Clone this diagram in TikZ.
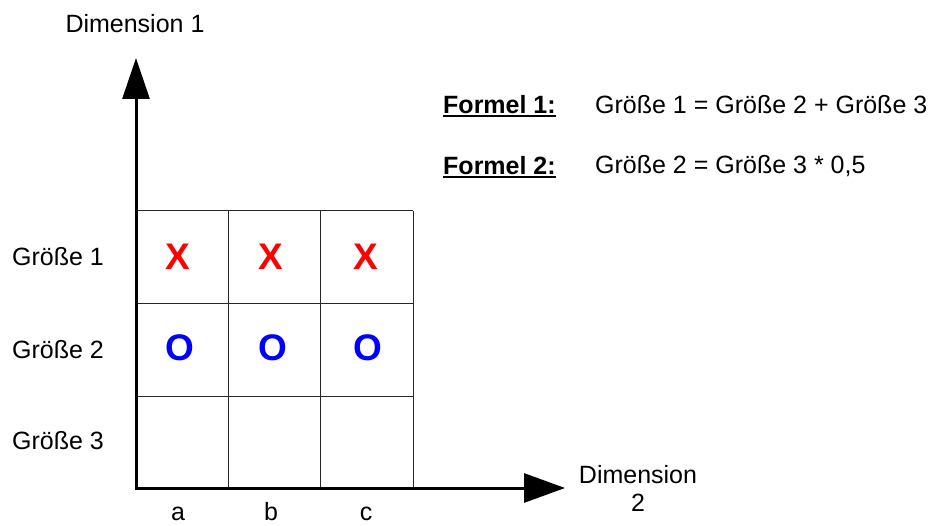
\documentclass[tikz,border=0pt]{standalone}
\usepackage{fontspec}
\setmainfont{Liberation Sans}
\usetikzlibrary{arrows.meta}
\begin{document}
\begin{tikzpicture}[x=1pt,y=-1pt,
  lbl/.style={font=\fontsize{25}{29}\selectfont, inner sep=0pt},
  mk/.style={font=\fontsize{37}{40}\selectfont\bfseries, inner sep=0pt},
  gridline/.style={line width=1pt, black!85},
  axis/.style={line width=3pt, {Triangle[length=41pt,width=27pt]}-{Triangle[length=41pt,width=29pt]}}]
\useasboundingbox (0,0) rectangle (942,526);
% grid
\foreach \x in {136,228,320,413} \draw[gridline] (\x,211) -- (\x,488);
\foreach \y in {211,304,396} \draw[gridline] (136,\y) -- (413,\y);
% axes
\coordinate (ytip) at (136,58);
\coordinate (origin) at (136,488);
\coordinate (xtip) at (565,488);
\draw[axis, line join=miter] (ytip) -- (origin) -- (xtip);
% axis labels
\node[lbl] (d1) at (135,24) {Dimension 1};
\node[lbl, align=center] (d2) at (638,488) {Dimension\\[-1pt]2};
% row labels
\node[lbl] (g1) at (58,257) {Größe 1};
\node[lbl] (g2) at (58,350) {Größe 2};
\node[lbl] (g3) at (58,441) {Größe 3};
% column labels
\node[lbl, anchor=base] (ca) at (178,520) {a};
\node[lbl, anchor=base] (cb) at (271,520) {b};
\node[lbl, anchor=base] (cc) at (366,520) {c};
% marks
\foreach \x/\n in {178/a,271/b,366/c} {
  \node[mk, text=red] (x\n) at (\x,257) {X};
  \node[mk, text=blue] (o\n) at (\x+2,348) {O};
}
% formulas
\node[lbl, anchor=west] (f1) at (443,105) {\textbf{Formel 1:}};
\node[lbl, anchor=west] (f1t) at (595,105) {Größe 1 = Größe 2 + Größe 3};
\node[lbl, anchor=west] (f2) at (443,166) {\textbf{Formel 2:}};
\node[lbl, anchor=west] (f2t) at (595,166) {Größe 2 = Größe 3 * 0,5};
\draw[line width=2pt] (f1.south west) ++(0,2) coordinate (u1a) -- (u1a -| f1.south east);
\draw[line width=2pt] (f2.south west) ++(0,2) coordinate (u2a) -- (u2a -| f2.south east);
\end{tikzpicture}
\end{document}
